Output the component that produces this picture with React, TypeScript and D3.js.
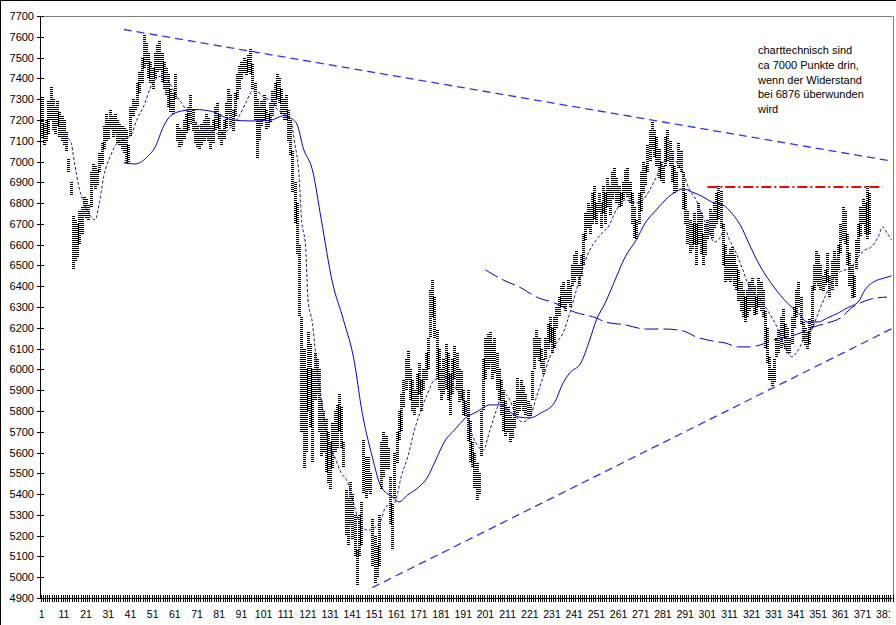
import React from 'react';
import * as d3 from 'd3';

// ---- data ----
const highs: number[] = [
  7310,7180,7200,7290,7360,7300,7260,7290,7240,7220,
  7200,7140,7010,6900,6740,6720,6700,6760,6780,6830,
  6820,6790,6950,6990,6980,6960,7040,7090,7170,7230,
  7200,7250,7220,7230,7200,7180,7170,7160,7150,7080,
  7260,7300,7290,7380,7430,7500,7610,7570,7520,7480,
  7450,7520,7560,7580,7520,7480,7450,7420,7350,7330,
  7420,7180,7160,7150,7200,7230,7260,7320,7250,7190,
  7170,7150,7180,7200,7230,7210,7170,7200,7260,7280,
  7230,7150,7200,7280,7350,7320,7250,7330,7420,7460,
  7480,7500,7490,7510,7540,7470,7380,7300,7260,7290,
  7320,7250,7230,7280,7340,7380,7420,7400,7350,7300,
  7320,7250,7200,7050,6900,6800,6600,6250,6100,6000,
  6180,6120,6000,6080,6050,6000,5850,5800,5760,5700,
  5650,5740,5800,5830,5880,5820,5650,5420,5380,5460,
  5400,5300,5130,5300,5360,5660,5580,5580,5500,5280,
  5200,5150,5300,5650,5700,5680,5620,5480,5350,5600,
  5700,5800,5880,5950,6050,6090,6000,5950,5900,5980,
  6030,5950,6000,6080,6150,6380,6430,6350,6190,6100,
  6000,6050,6120,6080,5980,6050,6110,6080,6000,5990,
  5900,5850,5900,5750,5650,5600,5550,5500,5800,6050,
  6150,6170,6180,6120,6150,6080,6000,5950,5900,5850,
  5820,5780,5760,5850,5960,5900,5950,5920,5880,5850,
  5830,5990,6150,6190,6150,6100,6050,6150,6220,6250,
  6200,6250,6300,6350,6400,6420,6380,6430,6400,6500,
  6550,6570,6500,6550,6650,6750,6800,6780,6850,6880,
  6800,6850,6800,6880,6850,6920,6880,6950,6970,6920,
  6880,6850,6900,6960,6970,6900,6850,6780,6720,6850,
  6950,7000,6980,7080,7150,7190,7150,7120,7060,7000,
  6980,7120,7150,7100,7050,6980,6950,7090,7050,6950,
  6850,6760,6720,6700,6750,6700,6800,6750,6650,6700,
  6720,6770,6750,6800,6850,6880,6860,6700,6600,6550,
  6580,6590,6550,6500,6480,6420,6380,6350,6380,6420,
  6440,6400,6350,6440,6420,6380,6280,6200,6060,6000,
  6050,6150,6190,6250,6290,6220,6200,6150,6250,6300,
  6380,6420,6350,6230,6200,6180,6240,6400,6500,6570,
  6550,6500,6450,6480,6560,6450,6520,6570,6530,6600,
  6700,6780,6760,6650,6560,6500,6450,6620,6700,6780,
  6820,6800,6880,6850,
];
const lows: number[] = [
  7110,7080,7100,7130,7200,7150,7130,7170,7120,7100,
  7080,7050,6950,6840,6480,6520,6540,6600,6650,6740,
  6730,6720,6780,6880,6870,6880,6950,6990,7060,7100,
  7110,7150,7120,7130,7090,7080,7060,7040,6990,6990,
  7120,7220,7250,7260,7330,7380,7450,7470,7400,7380,
  7350,7400,7430,7440,7380,7350,7320,7260,7240,7230,
  7300,7100,7070,7080,7110,7130,7150,7180,7140,7090,
  7070,7060,7080,7100,7120,7100,7060,7090,7150,7160,
  7110,7080,7110,7160,7230,7170,7140,7220,7300,7350,
  7390,7420,7410,7430,7420,7350,7200,7010,7100,7170,
  7200,7150,7160,7190,7220,7260,7300,7280,7230,7200,
  7200,7100,7030,6850,6700,6550,6250,5700,5520,5600,
  5800,5720,5550,5850,5880,5700,5580,5600,5500,5450,
  5420,5520,5600,5620,5700,5620,5530,5200,5150,5250,
  5180,5100,4960,5100,5150,5400,5380,5420,5400,5050,
  4970,5000,5050,5420,5480,5520,5520,5250,5130,5380,
  5550,5660,5700,5820,5900,5950,5850,5800,5780,5820,
  5880,5800,5900,5950,6000,6150,6250,6150,5950,5900,
  5850,5880,5900,5850,5780,5880,5950,5900,5840,5850,
  5780,5770,5650,5550,5530,5430,5370,5400,5580,5800,
  5950,6000,6030,5950,5980,5900,5850,5780,5700,5680,
  5700,5650,5670,5720,5780,5800,5830,5800,5780,5770,
  5770,5850,6000,6060,6040,6000,5980,6050,6100,6130,
  6080,6100,6200,6250,6300,6300,6280,6320,6300,6400,
  6420,6450,6400,6450,6500,6620,6680,6650,6700,6720,
  6700,6750,6680,6750,6700,6780,6740,6820,6850,6800,
  6780,6780,6820,6850,6830,6800,6700,6630,6620,6700,
  6760,6850,6880,6950,7000,7060,7020,6980,6920,6900,
  6890,6980,7000,6980,6900,6850,6860,6970,6950,6770,
  6700,6600,6560,6580,6600,6500,6600,6550,6500,6550,
  6620,6650,6630,6680,6700,6720,6680,6500,6420,6430,
  6420,6450,6400,6380,6330,6280,6250,6230,6250,6280,
  6300,6260,6260,6300,6280,6250,6100,6030,5950,5915,
  5940,6060,6080,6100,6150,6100,6080,6080,6120,6200,
  6250,6300,6220,6130,6110,6100,6120,6200,6380,6420,
  6400,6380,6370,6400,6420,6350,6380,6440,6400,6480,
  6560,6620,6600,6500,6400,6340,6350,6480,6560,6640,
  6700,6650,6620,6650,
];

// moving averages: [category, value]
const maShort: [number, number][] = [
  [11,7123],[14,7099],[16,6979],[18,6868],[20,6801],[23,6738],[25,6719],[27,6801],[29,6930],[32,7027],
  [35,7089],[38,7108],[41,7123],[44,7205],[47,7267],[51,7378],[55,7411],[58,7387],[61,7330],[64,7282],
  [68,7219],[72,7171],[77,7147],[81,7132],[86,7161],[90,7219],[93,7282],[96,7339],[99,7330],[102,7301],
  [104,7301],[107,7253],[110,7229],[113,7205],[115,7089],[117,6930],[118,6738],[120,6579],[121,6339],[123,6223],
  [125,6016],[127,5858],[128,5780],[130,5660],[133,5579],[136,5502],[139,5454],[142,5338],[145,5242],[148,5227],
  [151,5237],[154,5276],[156,5338],[160,5357],[161,5387],[163,5483],[166,5579],[169,5708],[172,5805],[175,5886],
  [178,5949],[183,5964],[187,5916],[192,5820],[194,5720],[197,5640],[200,5612],[203,5708],[206,5805],[209,5886],
  [212,5853],[215,5771],[218,5747],[221,5771],[224,5867],[227,5964],[230,6060],[233,6127],[236,6175],[239,6271],
  [242,6382],[245,6493],[248,6574],[251,6623],[254,6661],[256,6680],[260,6767],[264,6815],[269,6800],[272,6815],
  [275,6863],[278,6925],[281,6993],[284,7017],[287,6998],[290,6945],[293,6863],[296,6815],[299,6733],[302,6656],
  [304,6613],[306,6623],[309,6671],[311,6623],[314,6560],[317,6478],[320,6396],[324,6348],[328,6286],[333,6190],
  [336,6108],[339,6060],[342,6093],[345,6156],[348,6190],[351,6271],[354,6348],[357,6416],[360,6464],[363,6478],
  [366,6493],[369,6541],[372,6574],[375,6589],[378,6637],[380,6685],[382,6656],[384,6623],
];
const maMid: [number, number][] = [
  [38,6994],[43,6988],[49,7027],[52,7067],[56,7171],[59,7219],[64,7243],[70,7250],[78,7240],[83,7215],
  [87,7200],[95,7195],[104,7198],[110,7220],[113,7210],[116,7180],[119,7060],[123,6960],[127,6720],[132,6420],
  [137,6238],[142,6031],[145,5819],[150,5579],[154,5434],[159,5387],[162,5362],[166,5396],[171,5434],[175,5483],
  [178,5550],[183,5660],[187,5708],[192,5766],[197,5795],[203,5829],[208,5829],[212,5795],[216,5771],[221,5766],
  [226,5790],[232,5838],[236,5935],[239,5983],[244,6031],[248,6142],[251,6238],[255,6320],[260,6445],[264,6541],
  [269,6623],[273,6704],[278,6767],[282,6815],[286,6849],[290,6868],[294,6854],[299,6830],[303,6805],[308,6791],
  [312,6752],[317,6671],[319,6623],[325,6493],[331,6396],[337,6320],[342,6271],[346,6228],[351,6228],[355,6247],
  [360,6271],[364,6296],[369,6324],[372,6382],[376,6421],[381,6440],[384,6450],
];
const maLong: [number, number][] = [
  [201,6478],[209,6430],[217,6392],[224,6348],[232,6320],[241,6276],[251,6247],[255,6228],[264,6214],[273,6194],
  [282,6194],[290,6185],[296,6156],[303,6137],[309,6127],[315,6108],[320,6108],[325,6118],[331,6142],[337,6156],
  [343,6175],[349,6204],[355,6223],[361,6247],[366,6296],[370,6320],[375,6339],[382,6348],
];

const upperTrend: [number, number][] = [[38, 7635], [384, 7002]];
const lowerTrend: [number, number][] = [[150, 4950], [384, 6195]];
const resistance: [number, number][] = [[301, 6876], [380, 6876]];

const yTickValues: number[] = [4900,5000,5100,5200,5300,5400,5500,5600,5700,5800,5900,6000,6100,6200,6300,6400,6500,6600,6700,6800,6900,7000,7100,7200,7300,7400,7500,7600,7700];
const xLabelCats: number[] = [1,11,21,31,41,51,61,71,81,91,101,111,121,131,141,151,161,171,181,191,201,211,221,231,241,251,261,271,281,291,301,311,321,331,341,351,361,371,381];
const noteLines: string[] = ['charttechnisch sind', 'ca 7000 Punkte drin,', 'wenn der Widerstand', 'bei 6876 überwunden', 'wird'];
const N_CATS = 384;

const W = 896, H = 625;
const L = 40.6, R = 892.6, T = 16, B = 598;

export default function App() {
  const x = d3.scaleLinear().domain([0.5, N_CATS + 0.5]).range([L, R]);
  const y = d3.scaleLinear().domain([4900, 7700]).range([B, T]);
  const line = d3.line<[number, number]>().x(d => x(d[0])).y(d => y(d[1])).curve(d3.curveMonotoneX);
  const straight = d3.line<[number, number]>().x(d => x(d[0])).y(d => y(d[1]));
  const flat = d3.line<[number, number]>().x(d => x(d[0])).y(d => Math.round(y(d[1])));
  const font = '"Liberation Sans", Arial, sans-serif';
  const catTicks = d3.range(0, N_CATS + 1);

  return (
    <svg width={W} height={H} style={{ position: 'absolute', left: 0, top: 0, background: '#fff' }} fontFamily={font}>
      <defs>
        <clipPath id="plot"><rect x={L} y={T} width={R - L} height={B - T} /></clipPath>
        <clipPath id="chart"><rect x={0} y={0} width={890} height={H} /></clipPath>
      </defs>
      <rect x={0} y={0} width={W} height={H} fill="#fff" />
      {/* outer chart border */}
      <line x1={0.5} y1={0} x2={0.5} y2={H} stroke="#000" />
      <line x1={0} y1={0.5} x2={W} y2={0.5} stroke="#000" />
      {/* plot area border */}
      <line x1={L} y1={T + 0.5} x2={R} y2={T + 0.5} stroke="#808080" />
      <line x1={Math.round(R) + 0.5} y1={T} x2={Math.round(R) + 0.5} y2={B} stroke="#808080" />

      <g clipPath="url(#plot)">
        {highs.map((h, i) => (
          <line key={i} x1={Math.round(x(i + 1)) + 0.5} x2={Math.round(x(i + 1)) + 0.5}
            y1={Math.round(y(h))} y2={Math.round(y(lows[i]))} stroke="#000" strokeWidth={3}
            strokeDasharray="1 1" shapeRendering="crispEdges" />
        ))}
        <path d={line(maLong) || ''} fill="none" stroke="#0000c8" strokeWidth={1} strokeDasharray="14 5" />
        <path d={line(maMid) || ''} fill="none" stroke="#0000d0" strokeWidth={1} />
        <path d={line(maShort) || ''} fill="none" stroke="#1a1a9a" strokeWidth={1} strokeDasharray="3 2" />
        <path d={straight(upperTrend) || ''} fill="none" stroke="#3333ee" strokeWidth={1.3} strokeDasharray="8 5" />
        <path d={straight(lowerTrend) || ''} fill="none" stroke="#3333ee" strokeWidth={1.3} strokeDasharray="8 5" />
        <path d={flat(resistance) || ''} fill="none" stroke="#ff0000" strokeWidth={2}
          strokeDasharray="10 3 2 3" />
      </g>

      {/* y axis */}
      <line x1={40.5} y1={T} x2={40.5} y2={B + 1} stroke="#000" />
      {yTickValues.map(v => (
        <g key={v}>
          <line x1={37} x2={44} y1={Math.round(y(v)) + 0.5} y2={Math.round(y(v)) + 0.5} stroke="#000" />
          <text x={34} y={y(v) + 4} fontSize={11} textAnchor="end" fill="#000">{v}</text>
        </g>
      ))}
      {/* x axis */}
      <line x1={L} y1={B + 0.5} x2={R} y2={B + 0.5} stroke="#000" />
      {catTicks.map(c => (
        <line key={c} x1={Math.round(x(c + 0.5)) + 0.5} x2={Math.round(x(c + 0.5)) + 0.5} y1={595} y2={602} stroke="#000" />
      ))}
      <g clipPath="url(#chart)">
        {xLabelCats.map(c => (
          <text key={c} x={x(c)} y={618} fontSize={10.5} textAnchor="middle" fill="#000">{c}</text>
        ))}
      </g>

      {/* annotation */}
      {noteLines.map((t, i) => (
        <text key={i} x={758} y={54 + i * 14.8} fontSize={11} fill="#000">{t}</text>
      ))}
    </svg>
  );
}
